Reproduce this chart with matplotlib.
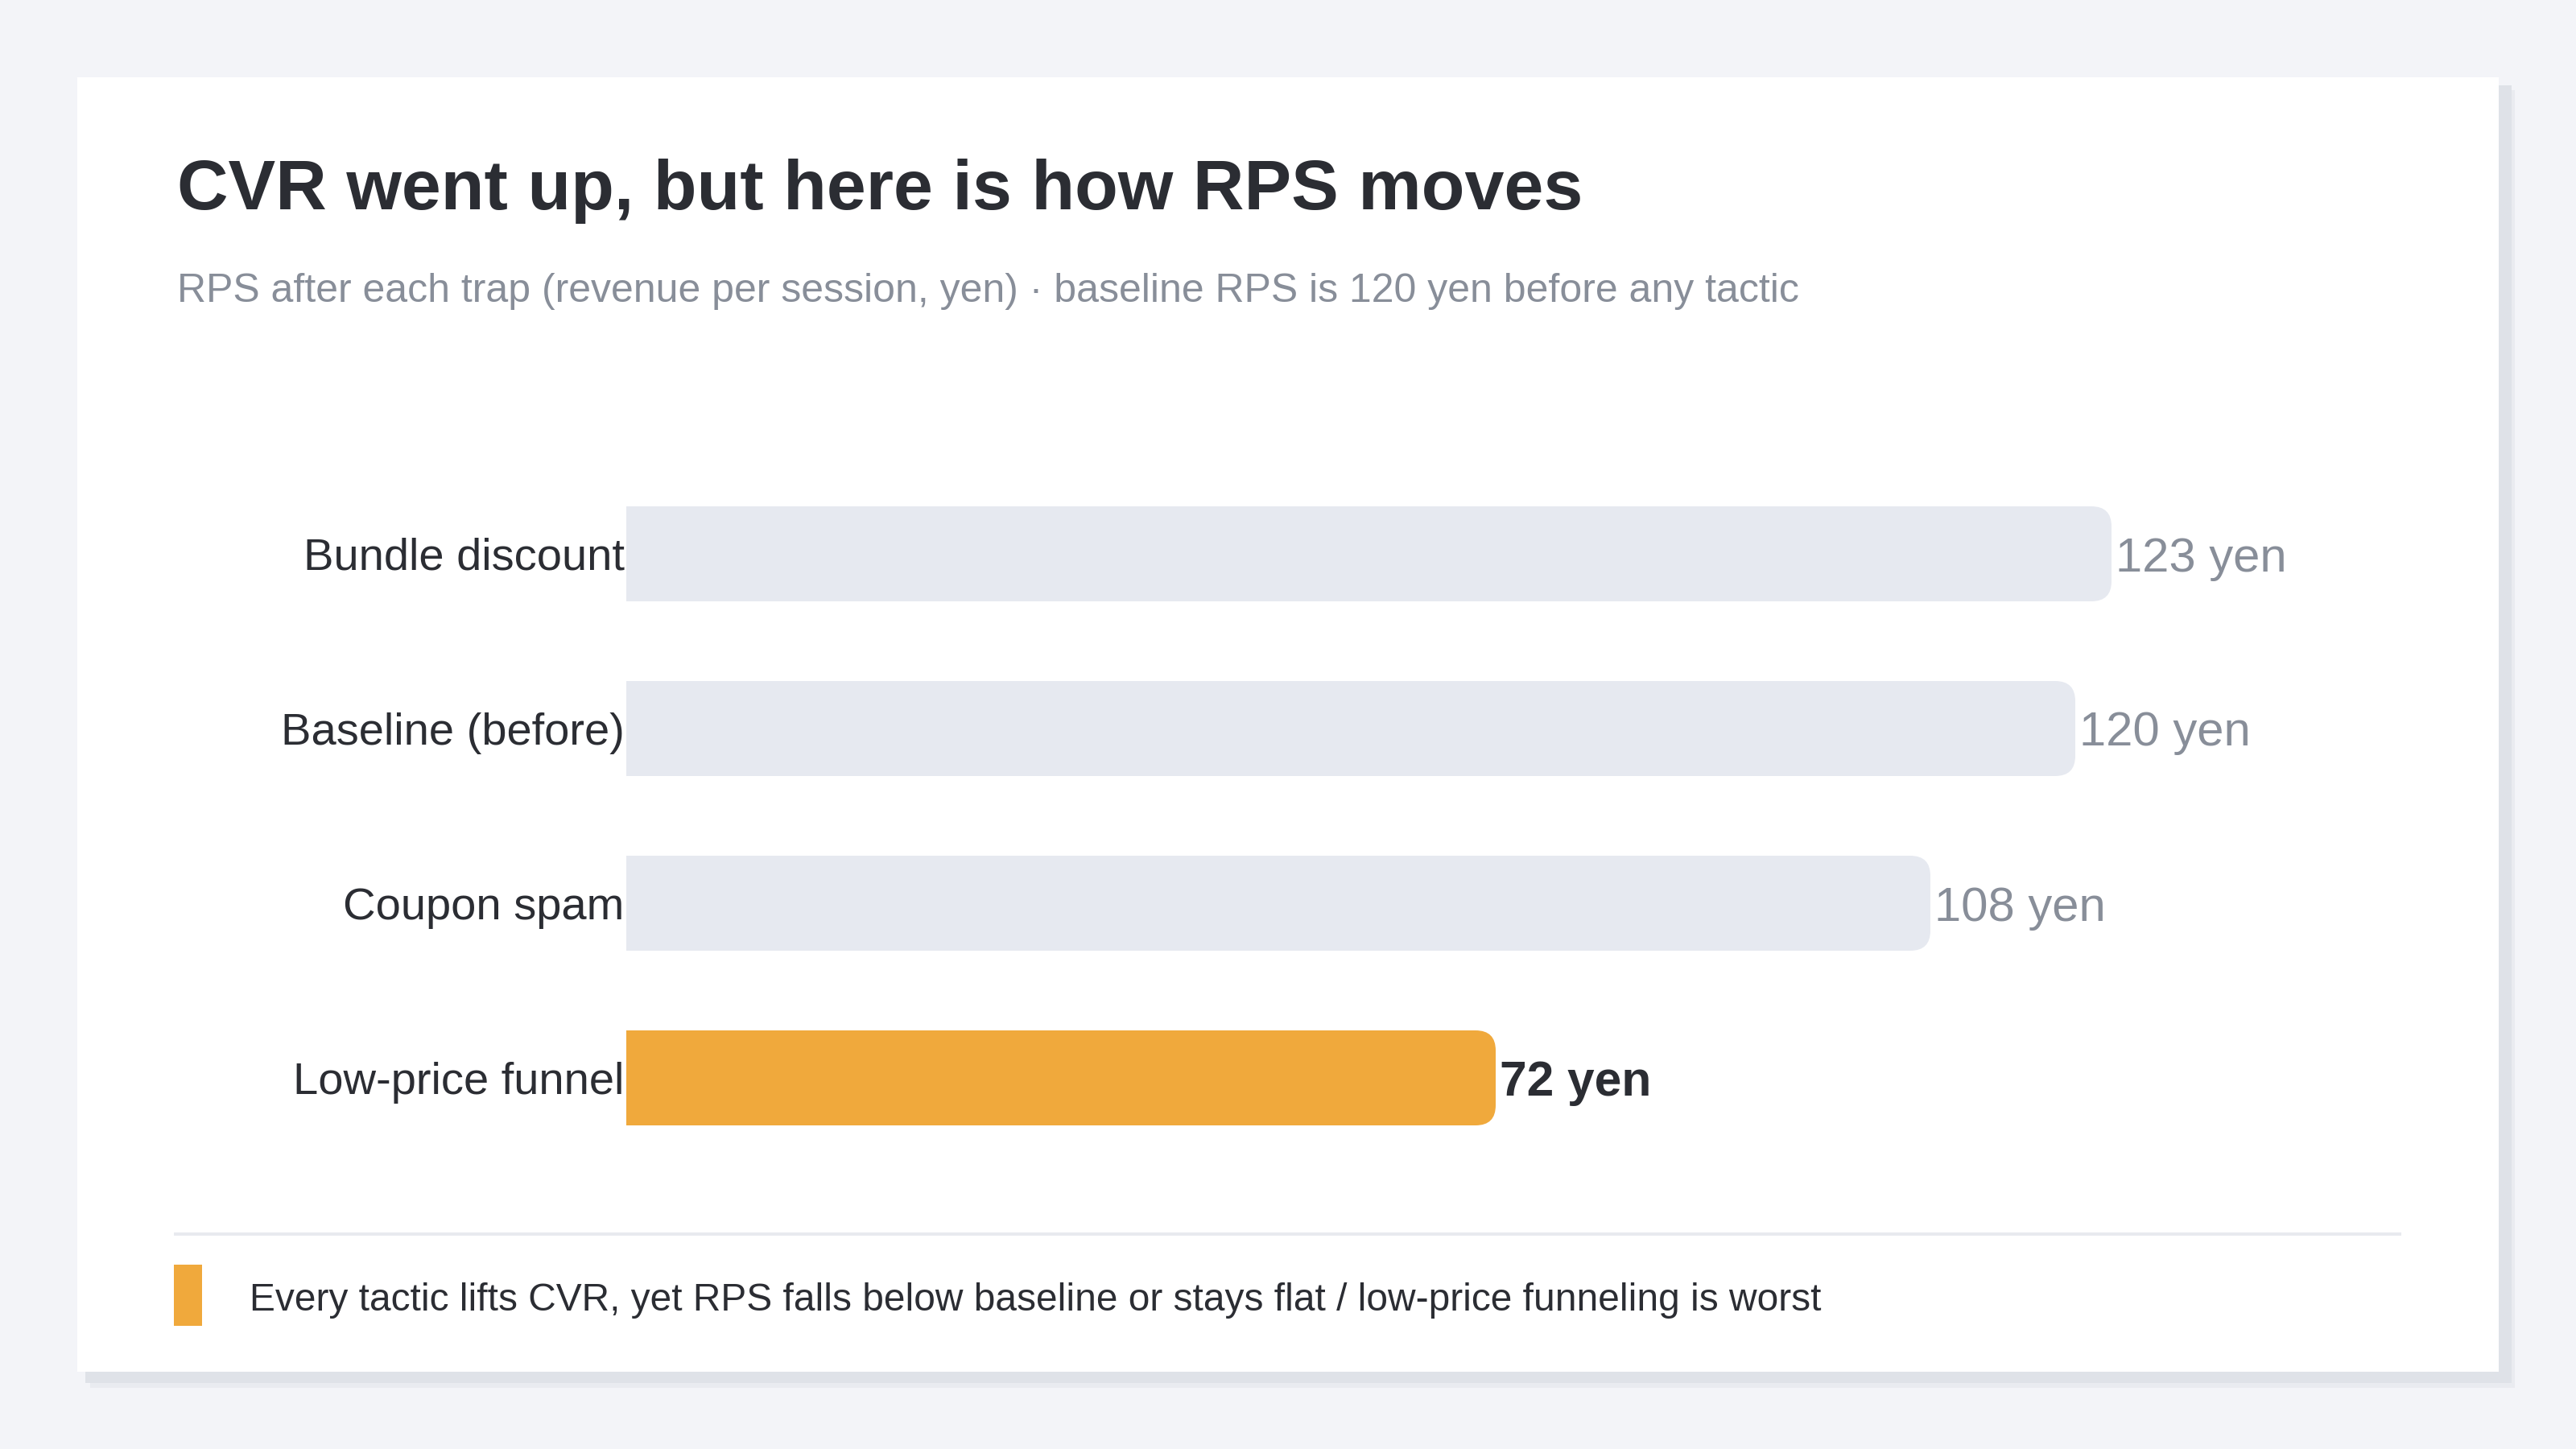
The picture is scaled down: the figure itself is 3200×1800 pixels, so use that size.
import matplotlib
matplotlib.use("Agg")
import matplotlib.pyplot as plt
from matplotlib.patches import Rectangle, FancyBboxPatch

plt.rcParams['font.family'] = ['Liberation Sans', 'DejaVu Sans']

# data
categories = ["Bundle discount", "Baseline (before)", "Coupon spam", "Low-price funnel"]
rps_values = [123, 120, 108, 72]
highlight = [False, False, False, True]
value_labels = ["123 yen", "120 yen", "108 yen", "72 yen"]

title = "CVR went up, but here is how RPS moves"
subtitle = "RPS after each trap (revenue per session, yen) \u00b7 baseline RPS is 120 yen before any tactic"
footer = "Every tactic lifts CVR, yet RPS falls below baseline or stays flat / low-price funneling is worst"

# colours
BG = "#f3f4f8"
CARD = "#ffffff"
SHADOW = "#dfe2e8"
DARK = "#2b2d33"
GREY_TXT = "#888e99"
GREY_BAR = "#e6e9f0"
ORANGE = "#f0a93c"
RULE = "#e8eaef"

W, H = 3200, 1800
fig = plt.figure(figsize=(16, 9), dpi=200, facecolor=BG)


def fx(x):
    return x / W


def fy(y):
    return 1 - y / H


def box(x0, y0, x1, y1, color, z=0):
    fig.patches.append(Rectangle((fx(x0), fy(y1)), fx(x1) - fx(x0), fy(y0) - fy(y1),
                                 transform=fig.transFigure, facecolor=color,
                                 edgecolor="none", zorder=z))


# card with soft shadow
box(112, 112, 3124, 1724, "#e9ebf0", 0)
box(106, 106, 3120, 1718, SHADOW, 0)
box(96, 96, 3104, 1704, CARD, 1)

# header
fig.text(fx(220), fy(260), title, fontsize=31.7, fontweight="bold", color=DARK,
         ha="left", va="baseline")
fig.text(fx(220), fy(375), subtitle, fontsize=18.0, color=GREY_TXT,
         ha="left", va="baseline")

# bar axes: x=0 at 778 px, 15 px per unit; rows 217 px apart
x_left, px_per_unit = 778, 15.0
xmax = 150
row_gap = 217
top = 688 - row_gap / 2
bottom = top + row_gap * len(categories)
ax = fig.add_axes([fx(x_left), fy(bottom), xmax * px_per_unit / W, (bottom - top) / H])
ax.set_zorder(2)
ax.patch.set_visible(False)
ax.set_xlim(0, xmax)
ax.set_ylim(len(categories) - 0.5, -0.5)

bar_h = 118 / row_gap
radius = 25 / px_per_unit
aspect = px_per_unit / row_gap
ypos = list(range(len(categories)))

for i, (v, hi) in enumerate(zip(rps_values, highlight)):
    col = ORANGE if hi else GREY_BAR
    ax.barh(ypos[i], v - radius, height=bar_h, color=col, edgecolor="none")
    ax.add_patch(FancyBboxPatch((v - 3 * radius, ypos[i] - bar_h / 2), 3 * radius, bar_h,
                                boxstyle=f"round,pad=0,rounding_size={radius}",
                                mutation_aspect=aspect, facecolor=col, edgecolor="none"))
    ax.text(v + 5 / px_per_unit, ypos[i], value_labels[i], fontsize=21.8 if hi else 21.5,
            fontweight="bold" if hi else "normal", color=DARK if hi else GREY_TXT,
            ha="left", va="center_baseline")

ax.set_yticks(ypos)
ax.set_yticklabels(categories, fontsize=20.2, color=DARK)
ax.tick_params(axis="y", length=0, pad=0.8)
ax.set_xticks([])
for s in ax.spines.values():
    s.set_visible(False)

# footer
box(216, 1531, 2983, 1535, RULE, 2)
box(216, 1571, 251, 1647, ORANGE, 2)
fig.text(fx(310), fy(1628), footer, fontsize=17.25, color=DARK, ha="left", va="baseline")

fig.savefig("out.png", dpi=200, facecolor=BG)
